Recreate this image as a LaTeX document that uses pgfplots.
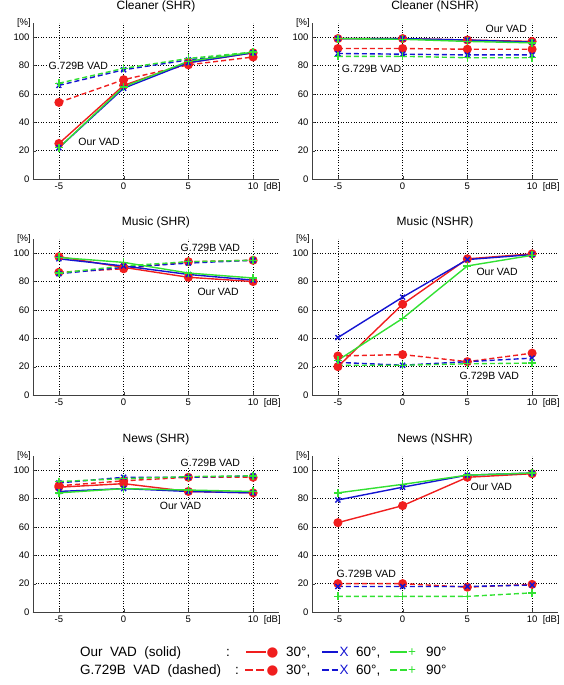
\documentclass[border=0pt]{standalone}
\usepackage{fontspec}
\setmainfont{Liberation Sans}
\newfontfamily\dejavu{DejaVu Sans}
\usepackage{pgfplots}
\pgfplotsset{compat=1.18}
\usepackage{pgfplotstable}

\definecolor{vred}{RGB}{240,30,30}
\definecolor{vblue}{RGB}{20,20,210}
\definecolor{vgreen}{RGB}{50,225,50}

% x ourR ourB ourG gR gB gG
\pgfplotstableread{
x ourR ourB ourG gR gB gG
-5 25 22 22 54 66 67.5
0 66 64 65 70 77 78
5 82 82 83 80.5 84 85
10 89 89 89.5 86 89 89.5
}\tabCS
\pgfplotstableread{
x ourR ourB ourG gR gB gG
-5 99 99 99 92 88.5 86.5
0 99 99 98.5 92 88 86.5
5 98 98 97 91.5 87.5 85.5
10 97 96.5 96 91.5 87.5 85.5
}\tabCN
\pgfplotstableread{
x ourR ourB ourG gR gB gG
-5 97.5 96 97 86.5 85.5 86
0 90 91 93.5 89 90 91
5 83 85 86 94 93 94
10 80 81 82.5 95 95 95
}\tabMS
\pgfplotstableread{
x ourR ourB ourG gR gB gG
-5 20 40.5 24.5 27.5 23 21
0 64 69 54 28.5 21 21
5 96 95.5 91 23.5 23.5 22
10 99.5 99 98.5 29.5 26 22.5
}\tabMN
\pgfplotstableread{
x ourR ourB ourG gR gB gG
-5 88 85 84 89 91 92
0 90.5 87 87 92.5 95 94
5 85 85 86 95 95 95.5
10 84 84 85 95 96 96
}\tabNS
\pgfplotstableread{
x ourR ourB ourG gR gB gG
-5 63 79 84 20 18 11
0 75 88 90 20 18 11
5 95 96.5 96.5 17.5 18 11
10 97.5 98 98 19.5 19 13.5
}\tabNN

\tikzset{ann/.style={fill=white, inner sep=1pt, font=\fontsize{10.5}{12}\selectfont}}

\pgfplotsset{
  vadax/.style={
    scale only axis, width=246pt, height=156pt,
    xmin=-7, xmax=12, ymin=0, ymax=110,
    xtick={-5,0,5,10}, ytick={0,20,40,60,80,100},
    axis lines=left, axis line style={-, black!75, line width=0.6pt},
    grid=major, major grid style={black, line width=0.55pt, dash pattern=on 1pt off 1.6pt},
    tick align=inside, major tick length=3pt, tick style={black!75},
    ticklabel style={font=\fontsize{9.5}{11}\selectfont},
    /pgf/number format/assume math mode=true,
    title style={font=\fontsize{12}{14}\selectfont, yshift=1pt},
    clip=false,
    every axis plot/.append style={line width=1.4pt},
  },
  sR/.style={vred, solid, mark=*, mark size=3.8pt, mark options={solid, fill=vred}},
  sB/.style={vblue, solid, mark=x, mark size=3.5pt, mark options={solid}},
  sG/.style={vgreen, solid, mark=+, mark size=4pt, mark options={solid}},
  dR/.style={vred, dash pattern=on 5pt off 3pt, mark=*, mark size=3.8pt, mark options={solid, fill=vred}},
  dB/.style={vblue, dash pattern=on 5pt off 3pt, mark=x, mark size=3.5pt, mark options={solid}},
  dG/.style={vgreen, dash pattern=on 5pt off 3pt, mark=+, mark size=4pt, mark options={solid}},
}

\newcommand{\vadplots}[1]{%
  \addplot[dR] table[x=x,y=gR]{#1};
  \addplot[dB] table[x=x,y=gB]{#1};
  \addplot[dG] table[x=x,y=gG]{#1};
  \addplot[sR] table[x=x,y=ourR]{#1};
  \addplot[sB] table[x=x,y=ourB]{#1};
  \addplot[sG] table[x=x,y=ourG]{#1};
  \node[anchor=north west, inner sep=0.333em, font=\fontsize{9.5}{11}\selectfont] at (axis cs:10.55,0) {[dB]};
  \node[anchor=east, inner sep=2pt, font=\fontsize{9.5}{11}\selectfont] at (rel axis cs:0,1) {[\%]};
}

\begin{document}
\begin{tikzpicture}
\useasboundingbox (0,0) rectangle (563pt,685pt);

\begin{axis}[vadax, at={(33pt,506pt)}, anchor=south west, title={Cleaner (SHR)}]
  \node[ann] at (axis cs:-3.5,80) {G.729B VAD};
  \node[ann] at (axis cs:-1.9,26) {Our VAD};
  \vadplots{\tabCS}
\end{axis}

\begin{axis}[vadax, at={(312pt,506pt)}, anchor=south west, title={Cleaner (NSHR)}]
  \node[ann] at (axis cs:-2.4,77.5) {G.729B VAD};
  \node[ann] at (axis cs:8.0,106) {Our VAD};
  \vadplots{\tabCN}
\end{axis}

\begin{axis}[vadax, at={(33pt,290pt)}, anchor=south west, title={Music (SHR)}]
  \node[ann] at (axis cs:6.7,103.5) {G.729B VAD};
  \node[ann] at (axis cs:7.3,73) {Our VAD};
  \vadplots{\tabMS}
\end{axis}

\begin{axis}[vadax, at={(312pt,290pt)}, anchor=south west, title={Music (NSHR)}]
  \node[ann] at (axis cs:7.3,86.6) {Our VAD};
  \node[ann] at (axis cs:6.7,13.4) {G.729B VAD};
  \vadplots{\tabMN}
\end{axis}

\begin{axis}[vadax, at={(33pt,73pt)}, anchor=south west, title={News (SHR)}]
  \node[ann] at (axis cs:6.7,105) {G.729B VAD};
  \node[ann] at (axis cs:4.4,74.6) {Our VAD};
  \vadplots{\tabNS}
\end{axis}

\begin{axis}[vadax, at={(312pt,73pt)}, anchor=south west, title={News (NSHR)}]
  \node[ann] at (axis cs:6.85,88) {Our VAD};
  \node[ann] at (axis cs:-2.8,26.8) {G.729B VAD};
  \vadplots{\tabNN}
\end{axis}

% legend (text key)
\begin{scope}[every node/.style={inner sep=0, anchor=base west, font=\fontsize{13.5}{15}\selectfont}]
  \node at (80pt,28.5pt) {Our\ \ VAD\ \ (solid)};
  \node at (226pt,28.5pt) {:};
  \draw[vred, line width=1.3pt] (246pt,33pt) -- (266pt,33pt);
  \node at (266.5pt,28.5pt) {{\dejavu\textcolor{vred}{●}}};
  \node at (286pt,28.5pt) {30°,};
  \draw[vblue, line width=1.3pt] (322pt,33pt) -- (338pt,33pt);
  \node at (339.5pt,28.5pt) {\textcolor{vblue}{X}};
  \node at (356pt,28.5pt) {60°,};
  \draw[vgreen, line width=1.3pt] (390pt,33pt) -- (407pt,33pt);
  \node at (408pt,28.5pt) {\textcolor{vgreen}{+}};
  \node at (426pt,28.5pt) {90°};

  \node at (80pt,10.5pt) {G.729B\ \ VAD\ \ (dashed)};
  \node at (235pt,10.5pt) {:};
  \draw[vred, line width=1.3pt, dash pattern=on 7.5pt off 3.5pt] (245pt,15pt) -- (266pt,15pt);
  \node at (266.5pt,10.5pt) {{\dejavu\textcolor{vred}{●}}};
  \node at (286pt,10.5pt) {30°,};
  \draw[vblue, line width=1.3pt, dash pattern=on 6.5pt off 3pt] (322pt,15pt) -- (338pt,15pt);
  \node at (339.5pt,10.5pt) {\textcolor{vblue}{X}};
  \node at (356pt,10.5pt) {60°,};
  \draw[vgreen, line width=1.3pt, dash pattern=on 7pt off 3pt] (390pt,15pt) -- (407pt,15pt);
  \node at (408pt,10.5pt) {\textcolor{vgreen}{+}};
  \node at (426pt,10.5pt) {90°};
\end{scope}
\end{tikzpicture}
\end{document}
